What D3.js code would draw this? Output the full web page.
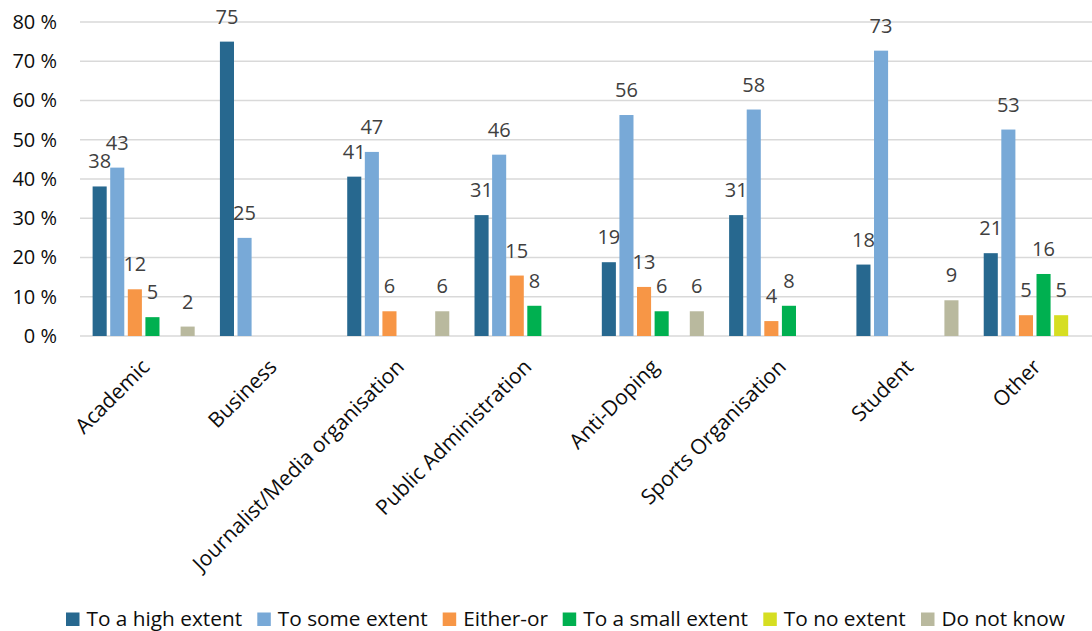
<!DOCTYPE html>
<html>
<head>
<meta charset="utf-8">
<script src="https://cdn.jsdelivr.net/npm/d3@7"></script>
<style>
  html, body { margin: 0; padding: 0; background: #fff; }
  svg { display: block; }
  text { font-family: "Open Sans", sans-serif; }
</style>
</head>
<body>
<svg id="chart" width="1092" height="631"></svg>
<script>
const categories = ["Academic", "Business", "Journalist/Media organisation", "Public Administration",
                    "Anti-Doping", "Sports Organisation", "Student", "Other"];
const seriesNames = ["To a high extent", "To some extent", "Either-or", "To a small extent", "To no extent", "Do not know"];
const seriesColors = ["#27688F", "#78A9D7", "#F79646", "#00B050", "#D6DE22", "#B9B99E"];
// values in %, null = no bar
const highExtent  = [38.1, 75.0, 40.6, 30.8, 18.8, 30.8, 18.2, 21.1];
const someExtent  = [42.9, 25.0, 46.9, 46.2, 56.3, 57.7, 72.7, 52.6];
const eitherOr    = [11.9, null, 6.3, 15.4, 12.5, 3.8, null, 5.3];
const smallExtent = [4.8, null, null, 7.7, 6.3, 7.7, null, 15.8];
const noExtent    = [null, null, null, null, null, null, null, 5.3];
const doNotKnow   = [2.4, null, 6.3, null, 6.3, null, 9.1, null];
const yTicks = [0, 10, 20, 30, 40, 50, 60, 70, 80];

const seriesValues = [highExtent, someExtent, eitherOr, smallExtent, noExtent, doNotKnow];

const svg = d3.select("#chart");
const plotLeft = 80, plotRight = 1098.4, plotTop = 22, plotBottom = 336;

const x0 = d3.scaleBand().domain(categories).range([plotLeft, plotRight]).paddingInner(0).paddingOuter(0);
const x1 = d3.scaleBand().domain(seriesNames).range([0, x0.bandwidth()]).paddingInner(0.2).paddingOuter(0.717);
const y = d3.scaleLinear().domain([0, 80]).range([plotBottom, plotTop]);

// gridlines
svg.append("g").selectAll("line").data(yTicks).join("line")
  .attr("x1", plotLeft).attr("x2", 1092)
  .attr("y1", d => y(d)).attr("y2", d => y(d))
  .attr("stroke", "#D9D9D9").attr("stroke-width", 1.3);

// y axis labels
const yAxis = d3.axisLeft(y).tickValues(yTicks).tickFormat(d => d + " %").tickSize(0).tickPadding(0);
const ya = svg.append("g").attr("transform", `translate(57,0)`).call(yAxis);
ya.select(".domain").remove();
ya.selectAll("text").attr("font-size", 20).attr("fill", "#0d0d0d").attr("font-family", "Open Sans");

// bars
const rows = [];
categories.forEach((c, i) => {
  seriesNames.forEach((s, j) => {
    const v = seriesValues[j][i];
    if (v !== null) rows.push({ c, s, v, color: seriesColors[j] });
  });
});

svg.append("g").selectAll("rect").data(rows).join("rect")
  .attr("x", d => x0(d.c) + x1(d.s))
  .attr("width", x1.bandwidth())
  .attr("y", d => y(d.v))
  .attr("height", d => y(0) - y(d.v))
  .attr("fill", d => d.color);

// data labels
svg.append("g").selectAll("text").data(rows).join("text")
  .attr("x", d => x0(d.c) + x1(d.s) + x1.bandwidth() / 2)
  .attr("y", d => y(d.v) - 25)
  .attr("dy", "0.35em")
  .attr("text-anchor", "middle")
  .attr("font-size", 20)
  .attr("fill", "#404040")
  .text(d => d3.format(".0f")(d.v));

// x axis labels
const xAxis = d3.axisBottom(x0).tickSize(0).tickPadding(0);
const xa = svg.append("g").attr("transform", `translate(0,${plotBottom})`).call(xAxis);
xa.select(".domain").remove();
xa.selectAll("text")
  .attr("font-size", 21).attr("fill", "#0d0d0d").attr("font-family", "Open Sans")
  .attr("text-anchor", "end")
  .attr("dy", "0.35em")
  .attr("y", 0)
  .attr("transform", "translate(2,27) rotate(-45)");

// legend (layout positions)
const legendX = [66, 257.3, 442.7, 562.7, 763.3, 921];
const lg = svg.append("g");
seriesNames.forEach((s, j) => {
  const lx = legendX[j];
  lg.append("rect").attr("x", lx).attr("y", 612.5).attr("width", 13.5).attr("height", 13.5).attr("fill", seriesColors[j]);
  lg.append("text").attr("x", lx + 20.5).attr("y", 626).attr("font-size", 20.8).attr("fill", "#0d0d0d").text(s);
});
</script>
</body>
</html>
